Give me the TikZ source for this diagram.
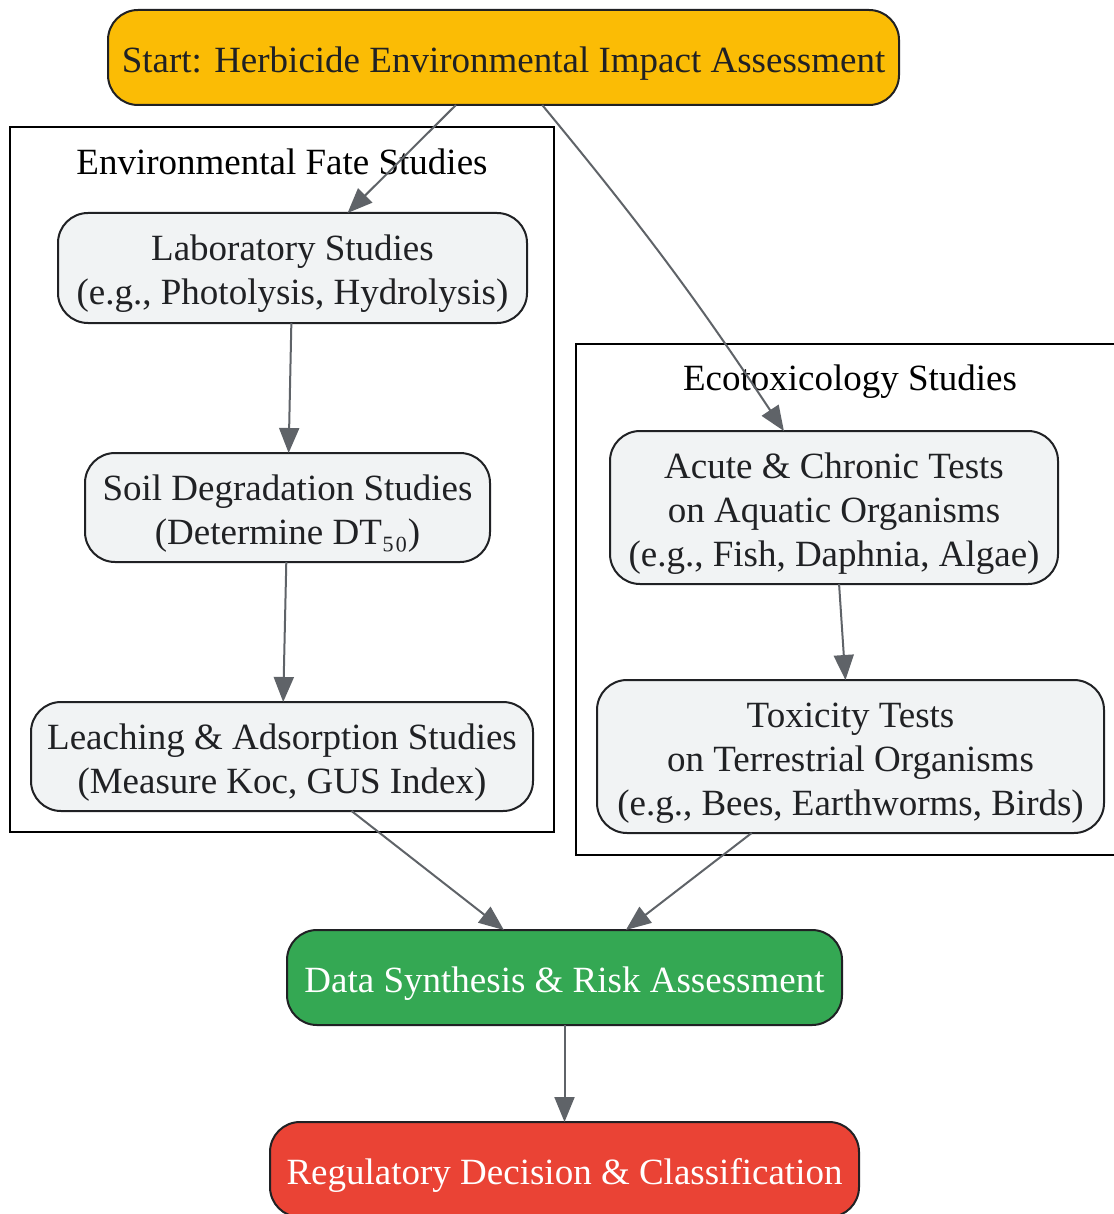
\documentclass[tikz,border=0pt]{standalone}
\usepackage{fontspec}
\setmainfont{Liberation Serif}
\usepackage{tikz}
\usetikzlibrary{arrows.meta}
\definecolor{startyellow}{HTML}{FBBC05}
\definecolor{synthgreen}{HTML}{34A853}
\definecolor{decisionred}{HTML}{EA4335}
\definecolor{stepgray}{HTML}{F1F3F4}
\definecolor{inkdark}{HTML}{202124}
\definecolor{edgegray}{HTML}{5F6368}
\newcommand{\topstrut}{\rule{0pt}{1.05em}}
\newcommand{\botstrut}{\rule[-0.25em]{0pt}{0.25em}}
\tikzset{>={Triangle[length=25pt,width=20pt]}}
\tikzset{%
    box/.style={%
        draw=inkdark, line width=2pt, rounded corners=30pt,
        align=center, inner sep=0pt, outer sep=0pt,
        font=\fontsize{37}{44}\selectfont
    },
    studybox/.style={box, fill=stepgray, text=inkdark},
    cluster/.style={draw=black, line width=2pt},
    clusterlabel/.style={font=\fontsize{37}{44}\selectfont, text=black},
    flow/.style={->, draw=edgegray, line width=2pt}
}

\begin{document}
\begin{tikzpicture}[x=1pt,y=-1pt]
    \useasboundingbox (0,0) rectangle (1113,1214);

    \draw[cluster] (10,127) rectangle (554,832);
    \node[clusterlabel] (fatelabel) at (282,162) {Environmental Fate Studies};
    \draw[cluster] (576,344) rectangle (1130,855);
    \node[clusterlabel] (ecolabel) at (850,382) {Ecotoxicology Studies};

    \node[box, fill=startyellow, text=inkdark, minimum width=791pt, minimum height=95pt] (start) at (503.5,57.5) {\topstrut Start: Herbicide Environmental Impact Assessment\botstrut};

    \node[studybox, minimum width=469pt, minimum height=110pt] (lab) at (292.5,268) {\topstrut Laboratory Studies\\(e.g., Photolysis, Hydrolysis)\botstrut};
    \node[studybox, minimum width=405pt, minimum height=109pt] (soil) at (287.5,507.5) {\topstrut Soil Degradation Studies\\(Determine DT₅₀)\botstrut};
    \node[studybox, minimum width=502pt, minimum height=109pt] (leach) at (282,756.5) {\topstrut Leaching \& Adsorption Studies\\(Measure Koc, GUS Index)\botstrut};

    \node[studybox, minimum width=448pt, minimum height=153pt] (acute) at (834,507.5) {\topstrut Acute \& Chronic Tests\\on Aquatic Organisms\\(e.g., Fish, Daphnia, Algae)\botstrut};
    \node[studybox, minimum width=507pt, minimum height=153pt] (terra) at (850.5,756.5) {\topstrut Toxicity Tests\\on Terrestrial Organisms\\(e.g., Bees, Earthworms, Birds)\botstrut};

    \node[box, fill=synthgreen, text=white, minimum width=555pt, minimum height=95pt] (synth) at (564.5,977.5) {\topstrut Data Synthesis \& Risk Assessment\botstrut};
    \node[box, fill=decisionred, text=white, minimum width=589pt, minimum height=95pt] (decision) at (564.5,1169.5) {\topstrut Regulatory Decision \& Classification\botstrut};

    \draw[flow] (start) -- (lab);
    \draw[flow] (start) to[bend left=3] (acute);
    \draw[flow] (lab) -- (soil);
    \draw[flow] (soil) -- (leach);
    \draw[flow] (acute) -- (terra);
    \draw[flow] (leach) -- (synth);
    \draw[flow] (terra) -- (synth);
    \draw[flow] (synth) -- (decision);
\end{tikzpicture}
\end{document}
